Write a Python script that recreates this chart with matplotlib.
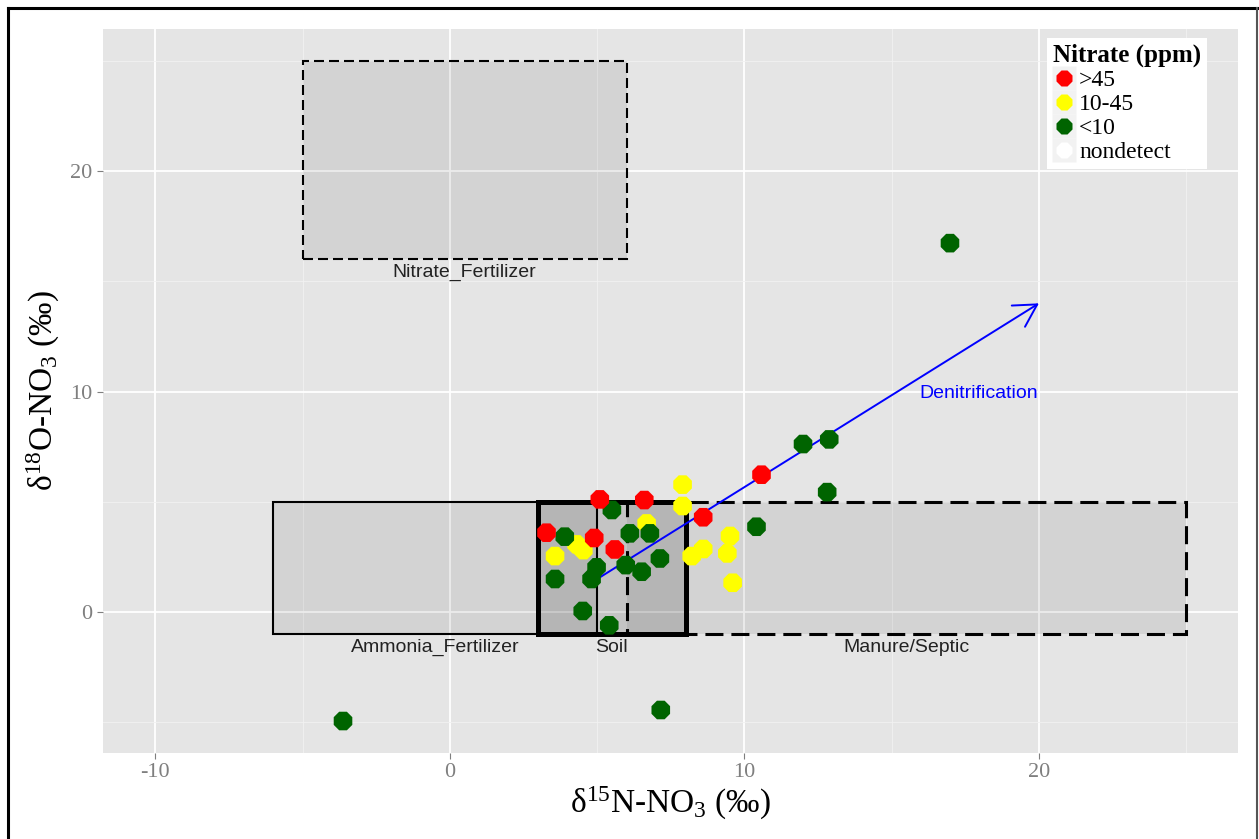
import numpy as np
import matplotlib.pyplot as plt
from matplotlib.lines import Line2D
from matplotlib.patches import Rectangle

plt.rcParams['font.family'] = ['Liberation Serif', 'DejaVu Serif']
plt.rcParams['mathtext.default'] = 'regular'
plt.rcParams['axes.unicode_minus'] = False

# isotope values by nitrate class
red_x = [5.09, 6.60, 3.28, 4.90, 5.60, 8.60, 10.58]
red_y = [5.11, 5.08, 3.60, 3.36, 2.84, 4.30, 6.23]
yel_x = [7.90, 7.90, 6.68, 3.57, 4.30, 4.53, 8.21, 8.60, 9.51, 9.42, 9.60]
yel_y = [5.78, 4.81, 4.02, 2.54, 3.07, 2.81, 2.54, 2.86, 3.45, 2.66, 1.33]
grn_x = [5.50, 3.90, 6.11, 6.79, 4.98, 4.81, 5.97, 6.51, 7.13, 3.57, 4.51, 5.41,
         10.41, 11.99, 12.88, 12.81, 16.98, -3.63, 7.16]
grn_y = [4.63, 3.42, 3.57, 3.57, 2.03, 1.50, 2.13, 1.83, 2.43, 1.50, 0.05, -0.60,
         3.87, 7.62, 7.83, 5.44, 16.73, -4.94, -4.44]

# source boxes: name, xmin, xmax, ymin, ymax
src_names = ['Nitrate_Fertilizer', 'Ammonia_Fertilizer', 'Manure/Septic', 'Soil']
src_x0 = [-5, -6, 6, 3]
src_x1 = [6, 5, 25, 8]
src_y0 = [16, -1, -1, -1]
src_y1 = [25, 5, 5, 5]
src_ls = [(0, (4.8, 2.4)), '-', (0, (5.9, 2.6)), '-']
src_lw = [1.5, 1.5, 2.2, 3.6]
src_alpha = [0.075, 0.075, 0.075, 0.14]

arrow_start = (5, 1.5)
arrow_end = (20, 14)

fig = plt.figure(figsize=(12.59, 8.39), dpi=100)
ax = fig.add_axes([103 / 1259, 1 - 753 / 839, (1238 - 103) / 1259, (753 - 29) / 839])
ax.set_facecolor('#E5E5E5')
ax.set_xlim(-11.78, 26.76)
ax.set_ylim(-6.39, 26.44)

ax.set_xticks([-10, 0, 10, 20])
ax.set_yticks([0, 10, 20])
ax.set_xticks([-5, 5, 15, 25], minor=True)
ax.set_yticks([-5, 5, 15, 25], minor=True)
ax.grid(which='major', color='white', linewidth=1.3)
ax.grid(which='minor', color='#F2F2F2', linewidth=0.6)
ax.set_axisbelow(True)
for s in ax.spines.values():
    s.set_visible(False)
ax.tick_params(which='major', colors='#7F7F7F', labelsize=16, length=4, width=0.8)
ax.tick_params(which='minor', length=0)

for i in range(len(src_names)):
    w = src_x1[i] - src_x0[i]
    h = src_y1[i] - src_y0[i]
    ax.add_patch(Rectangle((src_x0[i], src_y0[i]), w, h, facecolor='black',
                           alpha=src_alpha[i], edgecolor='none', zorder=1))
    ax.add_patch(Rectangle((src_x0[i], src_y0[i]), w, h, facecolor='none',
                           edgecolor='black', linestyle=src_ls[i],
                           linewidth=src_lw[i], zorder=2))
    ax.text((src_x0[i] + src_x1[i]) / 2, src_y0[i] - 0.6, src_names[i],
            ha='center', va='center', fontsize=14, family='Liberation Sans',
            color='#222222', zorder=3)

ax.annotate('', xy=arrow_end, xytext=arrow_start,
            arrowprops=dict(arrowstyle='->,head_length=0.8,head_width=0.45',
                            color='blue', lw=1.4, mutation_scale=20,
                            shrinkA=0, shrinkB=0), zorder=4)
ax.text(17.96, 9.93, 'Denitrification', color='blue', fontsize=14,
        family='Liberation Sans', ha='center', va='center', zorder=4)

ax.scatter(yel_x, yel_y, s=210, marker='8', color='#FFFF00', edgecolors='none', zorder=5)
ax.scatter(grn_x, grn_y, s=210, marker='8', color='#006400', edgecolors='none', zorder=5)
ax.scatter(red_x, red_y, s=210, marker='8', color='#FF0000', edgecolors='none', zorder=5)

ax.set_xlabel('δ$^{15}$N-NO$_{3}$ (‰)', fontsize=24, labelpad=2)
ax.set_ylabel('δ$^{18}$O-NO$_{3}$ (‰)', fontsize=24, labelpad=6)

handles = []
for c in ['#FF0000', '#FFFF00', '#006400', 'white']:
    key_bg = Line2D([], [], marker='s', linestyle='none', markersize=17,
                    markerfacecolor='#F2F2F2', markeredgecolor='none')
    dot = Line2D([], [], marker='8', linestyle='none', markersize=13,
                 markerfacecolor=c, markeredgecolor='none')
    handles.append((key_bg, dot))
leg = ax.legend(handles, ['>45', '10-45', '<10', 'nondetect'],
                title='Nitrate (ppm)', loc='upper right',
                bbox_to_anchor=(1207 / 1259, 1 - 38 / 839),
                bbox_transform=fig.transFigure, fontsize=17,
                title_fontproperties={'weight': 'bold', 'size': 18},
                frameon=True, fancybox=False, framealpha=1,
                handlelength=0.9, handletextpad=0.2, labelspacing=0.1,
                borderpad=0.25, borderaxespad=0)
leg.get_frame().set_facecolor('white')
leg.get_frame().set_edgecolor('none')
leg._legend_box.align = 'left'

# outer border of the figure
fig.add_artist(Line2D([8 / 1259, 8 / 1259], [0, 1 - 8 / 839], color='black', lw=2.2))
fig.add_artist(Line2D([8 / 1259, 1257 / 1259], [1 - 8 / 839, 1 - 8 / 839], color='black', lw=2.2))
fig.add_artist(Line2D([1257 / 1259, 1257 / 1259], [0, 1 - 8 / 839], color='#555555', lw=1.5))

fig.savefig('out.png', dpi=100)
